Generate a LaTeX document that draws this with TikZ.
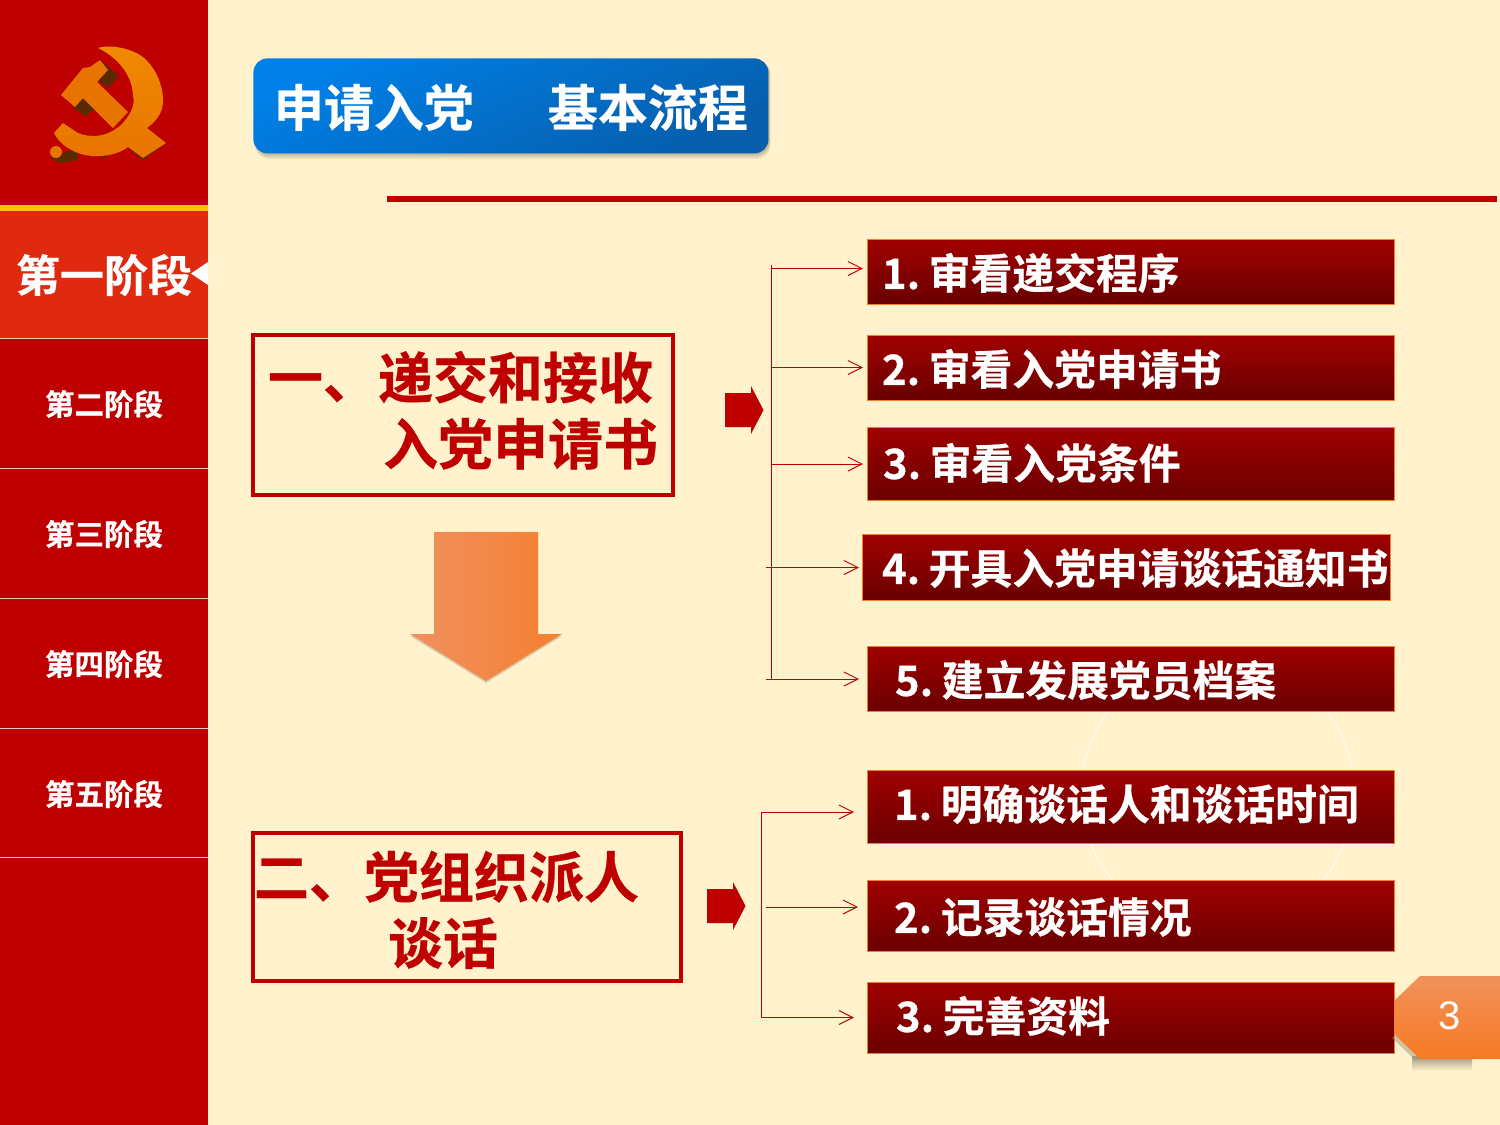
\documentclass[tikz,border=0pt]{standalone}
\usepackage{fontspec}
\usetikzlibrary{arrows.meta,calc}
\setmainfont{Noto Sans CJK SC}[BoldFont={Noto Sans CJK SC Bold},BoldFeatures={FakeBold=0.5}]
\newfontfamily\numfont{Liberation Sans}
\definecolor{bgcream}{HTML}{FFF2CC}
\definecolor{sidered}{HTML}{BF0000}
\definecolor{activered}{HTML}{DF2A10}
\definecolor{gold}{HTML}{FFC000}
\definecolor{barline}{HTML}{F08030}
\definecolor{bartop}{HTML}{A00000}
\definecolor{barbot}{HTML}{6A0000}
\definecolor{titletop}{HTML}{0080E8}
\definecolor{titlebot}{HTML}{065EAC}
\definecolor{arrowleft}{HTML}{F09060}
\definecolor{arrowright}{HTML}{F58030}
\definecolor{tabtop}{HTML}{F0915A}
\definecolor{tabbot}{HTML}{F87A24}
\definecolor{embdark}{HTML}{5A2A05}
\definecolor{embtop}{HTML}{F08A00}
\definecolor{embbot}{HTML}{E87400}
\definecolor{embhi}{HTML}{FFD820}
\definecolor{sepgrey}{HTML}{E0C8C8}
\definecolor{tabshadow}{HTML}{A09880}
\tikzset{
  x=0.5pt,y=-0.5pt,
  stagebox/.style={text=white,font=\bfseries\fontsize{14.75}{16}\selectfont,inner sep=0pt},
  sepline/.style={draw=sepgrey,line width=0.5pt},
  barbox/.style={anchor=north west,draw=barline,line width=0.5pt,top color=bartop,bottom color=barbot,text=white,font=\bfseries\fontsize{20.9}{24}\selectfont,inner sep=0pt,outer sep=0pt},
  headbox/.style={anchor=north west,draw=sidered,line width=2pt,fill=none,text=sidered,font=\bfseries\fontsize{27.5}{32.5}\selectfont,inner sep=0pt},
  trunk/.style={draw=sidered,line width=0.5pt},
  branch/.style={draw=sidered,line width=0.5pt,-{Straight Barb[length=7pt,width=7pt,line width=0.5pt]}},
  blockarrow/.style={fill=sidered,draw=none},
}
% name, x0, y0, x1, y1, text x, text centre y, text
\newcommand{\barnode}[8]{%
  \pgfmathsetlengthmacro{\barw}{(#4-#2)*0.5pt}%
  \pgfmathsetlengthmacro{\barins}{(#6-#2)*0.5pt}%
  \pgfmathsetlengthmacro{\barup}{((#3+#5)/2-#7)*0.5pt-7.98pt}%
  \node[barbox,minimum width={(#4-#2)*0.5pt},minimum height={(#5-#3)*0.5pt}] (#1) at (#2,#3)
    {\makebox[\barw][l]{\hspace*{\barins}\raisebox{\barup}[0pt][0pt]{\spaceskip=2.7pt #8}}};}
\begin{document}
\begin{tikzpicture}
\useasboundingbox (0,0) rectangle (1500,1125);
\fill[bgcream] (0,0) rectangle (1500,1125);
% faint circle behind bars
\draw[white,line width=0.4pt] (1217.5,793) circle[radius=136.5];
% sidebar
\fill[sidered] (0,0) rectangle (208,1125);
\fill[activered] (0,211) rectangle (208,338);
\fill[gold] (0,205) rectangle (208,211);
\foreach \yy in {338.5,468,598,728,857} \draw[sepline] (0,\yy) -- (208,\yy);
\node[stagebox,font=\bfseries\fontsize{22}{24}\selectfont] (s1) at (104,275) {第一阶段};
\fill[white] (208,262) -- (191,273.5) -- (208,285) -- cycle;
\node[stagebox] (s2) at (104,404) {第二阶段};
\node[stagebox] (s3) at (104,534) {第三阶段};
\node[stagebox] (s4) at (104,664) {第四阶段};
\node[stagebox] (s5) at (104,794) {第五阶段};
% emblem
\fill[embdark] (50,158) -- (77,148) -- (78,160) -- (60,163) -- cycle;
\fill[embdark] (98,160) -- (128,147) -- (136,155) -- (143,160) -- (166,143) -- (150,135) -- (128,140) -- cycle;
\fill[embdark] (100,60) -- (119,76) -- (108,88) -- (95,78) -- cycle;
\fill[embdark] (73,107) -- (83,98) -- (97,108) -- (85,116) -- cycle;
\shade[top color=embtop,bottom color=embbot]
  (98,48) .. controls (105,45) and (125,46) .. (140,55)
  .. controls (155,65) and (163,85) .. (163,100)
  .. controls (163,110) and (160,118) .. (147,128)
  -- (166,143) -- (143,158) -- (128,147)
  .. controls (118,155) and (100,158) .. (85,155)
  .. controls (72,152) and (60,145) .. (54,133)
  -- (63,123) -- (78,133)
  .. controls (90,138) and (108,138) .. (123,123)
  .. controls (132,112) and (135,105) .. (133,95)
  .. controls (132,78) and (122,60) .. (98,48) -- cycle;
\fill[embbot] (56,152) circle[radius=6];
\shade[left color=embbot,middle color=embhi,right color=embbot]
  (61,95) -- (83,68) -- (90,67) -- (100,60) -- (108,70) -- (97,82) -- (128,112)
  -- (113,128) -- (83,98) -- (75,107) -- cycle;
% title
\foreach \k in {1,...,5}
  \fill[black,opacity=0.06,rounded corners=7pt] (255,60) rectangle (768.5+0.4*\k,152.5+1.3*\k);
\node[anchor=north west,minimum width=257.5pt,minimum height=47.5pt,rounded corners=7pt,
      top color=titletop,bottom color=titlebot,shading angle=25,
      text=white,font=\bfseries\fontsize{25}{28}\selectfont,inner sep=0pt] (title) at (253,58)
  {\raisebox{-10.25pt}[0pt][0pt]{申请入党\hspace{37pt}基本流程}};
\fill[sidered] (387,196) rectangle (1497,202);
% heading boxes
\node[headbox,minimum width=210pt,minimum height=80pt] (h1) at (251,333)
  {\makebox[210pt][l]{\raisebox{-7.5pt}[0pt][0pt]{\begin{tabular}[c]{@{}l@{}}\hspace*{7.5pt}一、递交和接收\\\hspace*{65pt}入党申请书\end{tabular}}}};
\node[headbox,minimum width=214pt,minimum height=74pt] (h2) at (251,831)
  {\makebox[214pt][l]{\raisebox{-11.25pt}[0pt][0pt]{\begin{tabular}[c]{@{}l@{}}\hspace*{0.5pt}二、党组织派人\\\hspace*{67.5pt}谈话\end{tabular}}}};
% big down arrow
\fill[black,opacity=0.15] (434,534) -- (538,534) -- (538,636) -- (562,636) -- (486,683) -- (410,636) -- (434,636) -- cycle;
\shade[left color=arrowleft,right color=arrowright]
  (434,532) -- (538,532) -- (538,634) -- (562,634) -- (486,681) -- (410,634) -- (434,634) -- cycle;
% small block arrows
\fill[blockarrow] (725,393) -- (751,393) -- (751,386) -- (763.5,410) -- (751,434) -- (751,427) -- (725,427) -- cycle;
\fill[blockarrow] (707,889) -- (733,889) -- (733,882) -- (745.5,906) -- (733,930) -- (733,923) -- (707,923) -- cycle;
% bars
\barnode{a1}{867}{239}{1394}{304.5}{882}{273}{1. 审看递交程序}
\barnode{a2}{867}{335}{1394}{400.5}{882}{369}{2. 审看入党申请书}
\barnode{a3}{867}{427}{1394}{500.5}{883}{463}{3. 审看入党条件}
\barnode{a4}{862}{534}{1390}{600.5}{882}{568}{4. 开具入党申请谈话通知书}
\barnode{a5}{867}{646}{1394}{711.5}{895}{680}{5. 建立发展党员档案}
\barnode{b1}{867}{770}{1394}{843.5}{894}{804}{1. 明确谈话人和谈话时间}
\barnode{b2}{867}{880}{1394}{951.5}{894}{917}{2. 记录谈话情况}
\barnode{b3}{867}{982}{1394}{1053.5}{896}{1016}{3. 完善资料}
% connectors
\coordinate (t1) at (771.5,265);
\coordinate (t2) at (771.5,680);
\draw[trunk] (t1) -- (t2);
\coordinate (ca1) at (771.5,268.5);
\coordinate (ca2) at (771.5,367.5);
\coordinate (ca3) at (771.5,464);
\coordinate (ca4) at (766,567.5);
\coordinate (ca5) at (766,679);
\draw[branch,shorten >=2pt] (ca1) -- (ca1 -| a1.west);
\draw[branch,shorten >=2pt] (ca2) -- (ca2 -| a2.west);
\draw[branch,shorten >=2pt] (ca3) -- (ca3 -| a3.west);
\draw[branch,shorten >=1.5pt] (ca4) -- (ca4 -| a4.west);
\draw[branch,shorten >=4pt] (ca5) -- (ca5 -| a5.west);
\coordinate (u1) at (761,812);
\coordinate (u2) at (761,1018);
\draw[trunk] (u1) -- (u2);
\coordinate (cb1) at (761,812);
\coordinate (cb2) at (766,907);
\coordinate (cb3) at (761,1017.5);
\draw[branch,shorten >=6.5pt] (cb1) -- (cb1 -| b1.west);
\draw[branch,shorten >=4.5pt] (cb2) -- (cb2 -| b2.west);
\draw[branch,shorten >=6.5pt] (cb3) -- (cb3 -| b3.west);
% page tab shadow
\shade[top color=tabshadow,bottom color=bgcream] (1412,1056) rectangle (1472,1071);
\fill[tabshadow,opacity=0.5] (1395,1035) -- (1392,1038) -- (1415,1060) -- (1420,1059) -- cycle;
\shade[top color=tabtop,bottom color=tabbot]
  (1420,976) -- (1500,976) -- (1500,1059) -- (1420,1059) -- (1395,1035) -- (1395,1000) -- cycle;
\node[text=white,font=\numfont\fontsize{20}{22}\selectfont,inner sep=0pt] (pg) at (1450,1016) {3};
\end{tikzpicture}
\end{document}
